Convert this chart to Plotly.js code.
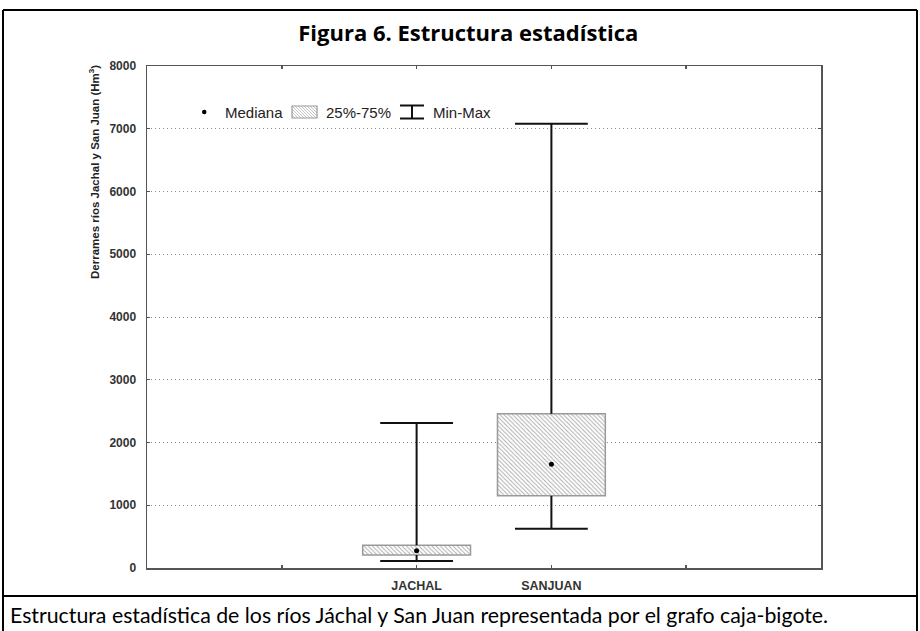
<!DOCTYPE html>
<html><head><meta charset="utf-8">
<script src="https://cdn.plot.ly/plotly-3.0.1.min.js"></script>
<style>html,body{margin:0;padding:0;background:#fff}#chart{width:920px;height:631px}</style>
</head><body><div id="chart"></div>
<script>
// ---- data ----
const categories = ['JACHAL', 'SANJUAN'];
const minVals = [112, 627];
const q1Vals = [207, 1150];
const medianVals = [276, 1652];
const q3Vals = [362, 2460];
const maxVals = [2310, 7080];
const yTickVals = [0, 1000, 2000, 3000, 4000, 5000, 6000, 7000, 8000];
const yTickText = ['0', '1000', '2000', '3000', '4000', '5000', '6000', '7000', '8000'];
const legendLabels = ['Mediana', '25%-75%', 'Min-Max'];
const titleText = '<b>Figura 6. Estructura estadística</b>';
const yTitleText = '<b>Derrames ríos Jachal y San Juan (Hm<sup>3</sup>)</b>';
const captionText = 'Estructura estadística de los ríos Jáchal y San Juan representada por el grafo caja-bigote.';

// ---- geometry helpers ----
const W = 920, H = 631, L = 147, R = 821, T = 66, B = 568;
const px = x => (x - L) / (R - L);
const py = y => (B - y) / (B - T);
const pos = categories.map((c, i) => i);
const capHalf = 0.27;

// whiskers
const wx = [], wy = [];
pos.forEach((p, i) => {
  wx.push(p, p, null, p - capHalf, p + capHalf, null);
  wy.push(q3Vals[i], maxVals[i], null, maxVals[i], maxVals[i], null);
  wx.push(p, p, null, p - capHalf, p + capHalf, null);
  wy.push(q1Vals[i], minVals[i], null, minVals[i], minVals[i], null);
});

const traces = [
  {
    type: 'bar', x: pos, base: q1Vals, y: q3Vals.map((v, i) => v - q1Vals[i]), width: 0.8,
    marker: { color: 'white', line: { color: '#9a9a9a', width: 1.5 },
      pattern: { shape: '\\', fgcolor: '#aaaaaa', bgcolor: 'white', size: 3, solidity: 0.3 } },
    hoverinfo: 'skip', showlegend: false
  },
  {
    type: 'scatter', mode: 'lines', x: wx, y: wy,
    line: { color: '#111', width: 2 }, hoverinfo: 'skip', showlegend: false
  },
  {
    type: 'scatter', mode: 'markers', x: pos, y: medianVals,
    marker: { color: '#000', size: 5 }, hoverinfo: 'skip', showlegend: false
  }
];

// ---- shapes: outer frame ----
const shapes = [];
function pline(x0, y0, x1, y1, color, width) {
  shapes.push({ type: 'line', xref: 'paper', yref: 'paper', x0: px(x0), y0: py(y0), x1: px(x1), y1: py(y1),
    line: { color: color, width: width }, layer: 'above' });
}
pline(3, 10, 917, 10, '#000', 2);
pline(3, 10, 3, 640, '#000', 2);
pline(917, 10, 917, 640, '#000', 2);
pline(3, 596, 917, 596, '#000', 2);

// ---- legend ----
const legY = 112;
shapes.push({ type: 'circle', xref: 'paper', yref: 'paper', x0: px(202), x1: px(206.5), y0: py(109.8), y1: py(114.2),
  fillcolor: '#000', line: { width: 0 } });
// hatched swatch
const sx0 = 292, sx1 = 317, sy0 = 106, sy1 = 118;
for (let c = sx0 - sy1; c <= sx1 - sy0; c += 3) {
  const xa = Math.max(sx0, sy0 + c), xb = Math.min(sx1, sy1 + c);
  if (xb > xa) pline(xa, xa - c, xb, xb - c, '#b5b5b5', 0.8);
}
shapes.push({ type: 'rect', xref: 'paper', yref: 'paper', x0: px(sx0), x1: px(sx1), y0: py(sy0), y1: py(sy1),
  line: { color: '#9a9a9a', width: 1.2 } });
// I-beam
pline(400, 105.5, 424, 105.5, '#111', 2);
pline(400, 118.5, 424, 118.5, '#111', 2);
pline(412, 105.5, 412, 118.5, '#111', 2);

const legFont = { family: 'Liberation Sans, Arial, sans-serif', size: 15, color: '#222' };
const annotations = [
  { text: legendLabels[0], x: px(223), y: py(legY), xanchor: 'left', yanchor: 'middle' },
  { text: legendLabels[1], x: px(324), y: py(legY), xanchor: 'left', yanchor: 'middle' },
  { text: legendLabels[2], x: px(431), y: py(legY), xanchor: 'left', yanchor: 'middle' }
].map(a => Object.assign(a, { xref: 'paper', yref: 'paper', showarrow: false, font: legFont }));

annotations.push({
  text: yTitleText, xref: 'paper', yref: 'paper', x: px(94), y: py(172), xanchor: 'center', yanchor: 'middle',
  textangle: -90, showarrow: false, font: { family: 'Liberation Sans, Arial, sans-serif', size: 11.5, color: '#222' }
});
annotations.push({
  text: captionText, xref: 'paper', yref: 'paper', x: px(8), y: py(615), xanchor: 'left', yanchor: 'middle',
  showarrow: false, font: { family: 'Lato, sans-serif', size: 21.3, color: '#000' }
});

const layout = {
  width: W, height: H,
  margin: { l: L, r: W - R, t: T, b: H - B, pad: 0 },
  paper_bgcolor: 'white', plot_bgcolor: 'white',
  showlegend: false,
  title: { text: titleText, x: 0.509, xanchor: 'center', y: (H - 33) / H, yanchor: 'middle', yref: 'container',
    font: { family: 'Open Sans, sans-serif', size: 22, color: '#000' } },
  xaxis: {
    range: [-2, 3], tickvals: pos, ticktext: categories,
    minor: { tick0: 0, dtick: 1, ticks: 'inside', ticklen: 3, tickcolor: '#555', tickwidth: 1.5, showgrid: false },
    showgrid: false, zeroline: false, showline: true, linecolor: '#555', linewidth: 1.5, mirror: 'allticks',
    ticks: 'inside', ticklen: 3, tickcolor: '#555', tickwidth: 1.5,
    tickfont: { family: 'Liberation Sans, Arial, sans-serif', size: 12.5, color: '#333', weight: 'bold' },
    ticklabelstandoff: 5, fixedrange: true
  },
  yaxis: {
    range: [0, 8000], tickvals: yTickVals, ticktext: yTickText,
    showgrid: true, gridcolor: '#8a8a8a', griddash: '1px,3px', gridwidth: 1,
    zeroline: false, showline: true, linecolor: '#555', linewidth: 1.5, mirror: 'allticks',
    ticks: 'inside', ticklen: 3, tickcolor: '#555', tickwidth: 1,
    tickfont: { family: 'Liberation Sans, Arial, sans-serif', size: 12, color: '#333', weight: 'bold' },
    ticklabelstandoff: 7, fixedrange: true
  },
  shapes: shapes,
  annotations: annotations
};

Plotly.newPlot('chart', traces, layout, { displayModeBar: false, staticPlot: true });
</script>
</body></html>
